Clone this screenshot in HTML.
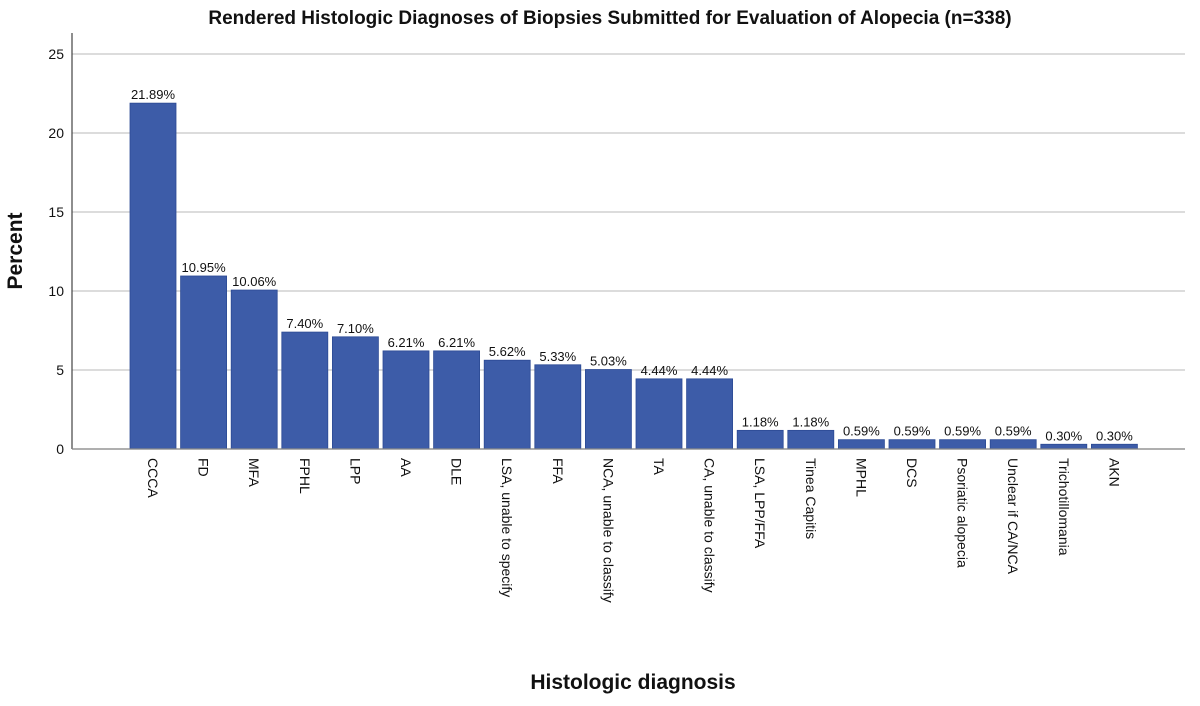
<!DOCTYPE html>
<html><head><meta charset="utf-8"><style>
body{margin:0;background:#fff;}
svg text{font-family:"Liberation Sans","DejaVu Sans",sans-serif;fill:#111;}
</style></head><body>
<svg id="chart" width="1200" height="701">
<text x="610" y="24" text-anchor="middle" font-size="19" font-weight="bold">Rendered Histologic Diagnoses of Biopsies Submitted for Evaluation of Alopecia (n=338)</text>
<text transform="translate(22,251) rotate(-90)" text-anchor="middle" font-size="21" font-weight="bold">Percent</text>
<text x="633" y="689" text-anchor="middle" font-size="21" font-weight="bold">Histologic diagnosis</text>
<g id="grid"></g><g id="bars"></g><g id="labels"></g>
<line x1="72" y1="33" x2="72" y2="449" stroke="#444" stroke-width="1.2"/>
<line x1="72" y1="449" x2="1185" y2="449" stroke="#888" stroke-width="1.2"/>
</svg>
<script>
const categories=["CCCA","FD","MFA","FPHL","LPP","AA","DLE","LSA, unable to specify","FFA","NCA, unable to classify","TA","CA, unable to classify","LSA, LPP/FFA","Tinea Capitis","MPHL","DCS","Psoriatic alopecia","Unclear if CA/NCA","Trichotillomania","AKN"];
const values=[21.89,10.95,10.06,7.40,7.10,6.21,6.21,5.62,5.33,5.03,4.44,4.44,1.18,1.18,0.59,0.59,0.59,0.59,0.30,0.30];
const valueLabels=["21.89%","10.95%","10.06%","7.40%","7.10%","6.21%","6.21%","5.62%","5.33%","5.03%","4.44%","4.44%","1.18%","1.18%","0.59%","0.59%","0.59%","0.59%","0.30%","0.30%"];
const yTicks=[0,5,10,15,20,25];
const NS="http://www.w3.org/2000/svg";
const y0=449,pxPer=(449-54)/25;
const y=v=>y0-v*pxPer;
const step=50.6,first=153,bw=46;
const x=i=>first+i*step;
const grid=document.getElementById('grid'),bars=document.getElementById('bars'),labels=document.getElementById('labels');
yTicks.forEach(t=>{
  const l=document.createElementNS(NS,'line');
  
  
  l.setAttribute('x1',72);l.setAttribute('x2',1185);l.setAttribute('y1',y(t));l.setAttribute('y2',y(t));
  l.setAttribute('stroke','#c8c8c8');l.setAttribute('stroke-width','1.2');
  grid.appendChild(l);
  const tx=document.createElementNS(NS,'text');
  
  
  tx.setAttribute('x',64);tx.setAttribute('y',y(t)+5);tx.setAttribute('text-anchor','end');tx.setAttribute('font-size','14');
  tx.textContent=t;grid.appendChild(tx);
});
categories.forEach((c,i)=>{
  const r=document.createElementNS(NS,'rect');
  
  
  r.setAttribute('x',x(i)-bw/2);r.setAttribute('y',y(values[i]));r.setAttribute('width',bw);r.setAttribute('height',y0-y(values[i]));
  r.setAttribute('fill','#3d5ca8');r.setAttribute('stroke','#2c4a94');r.setAttribute('stroke-width','0.8');
  bars.appendChild(r);
  const v=document.createElementNS(NS,'text');
  
  
  v.setAttribute('x',x(i));v.setAttribute('y',y(values[i])-4);v.setAttribute('text-anchor','middle');v.setAttribute('font-size','13');
  v.textContent=valueLabels[i];labels.appendChild(v);
  const t=document.createElementNS(NS,'text');
  
  
  t.setAttribute('transform','translate('+(x(i)-5)+',458) rotate(90)');t.setAttribute('font-size','14');
  t.textContent=c;labels.appendChild(t);
});
</script>
</body></html>
